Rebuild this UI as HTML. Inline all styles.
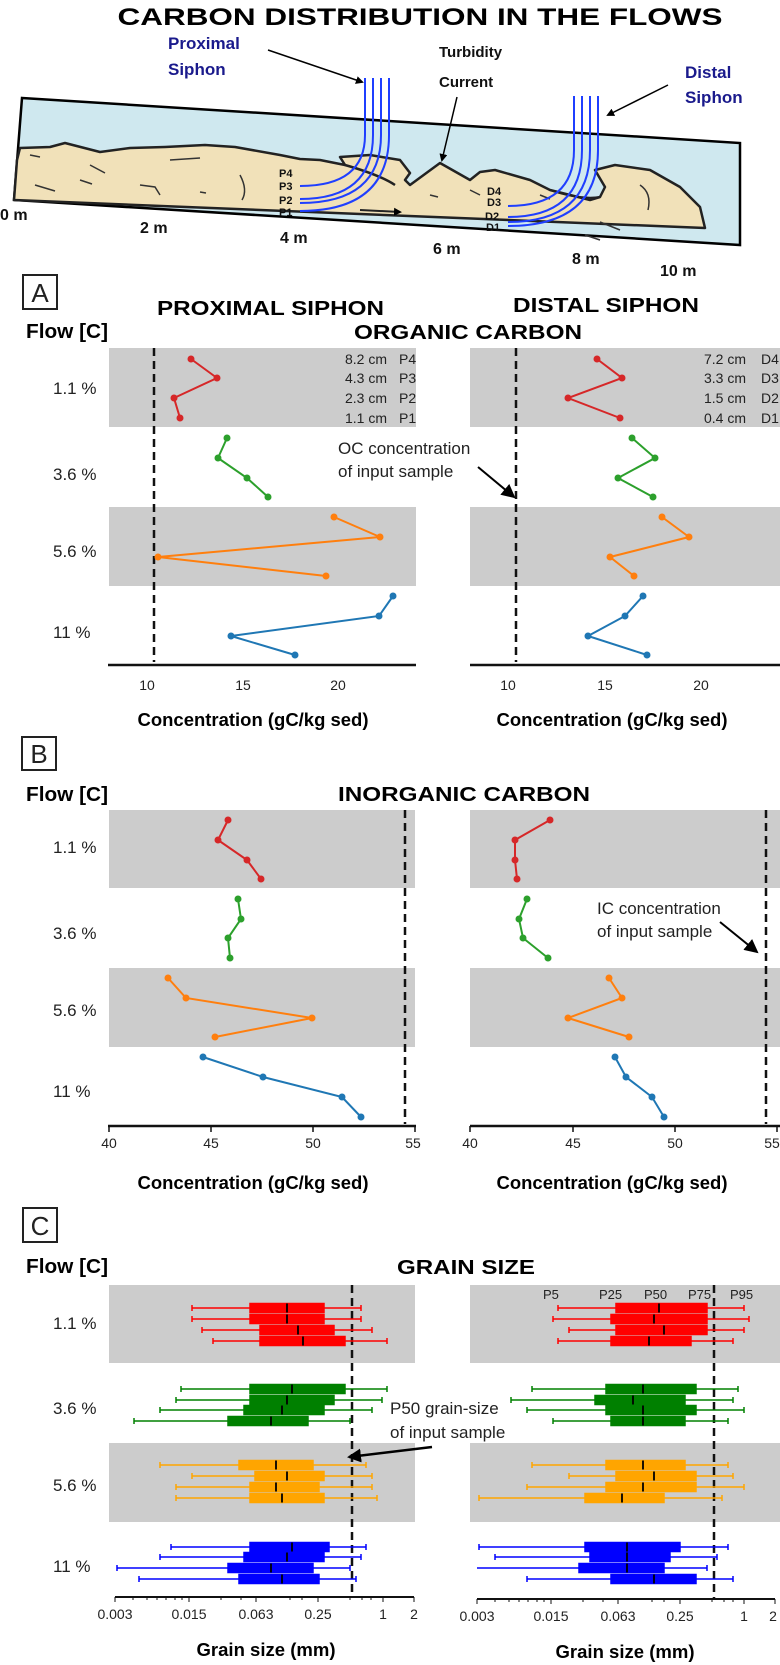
<!DOCTYPE html>
<html><head><meta charset="utf-8"><style>
html,body{margin:0;padding:0;background:#fff}
svg{display:block}
text{font-family:"Liberation Sans",sans-serif}
.t{font-weight:bold}
.row{font-size:17px;fill:#222}
.tk{font-size:14px;fill:#222}
</style></head><body>
<svg width="780" height="1665" viewBox="0 0 780 1665" xmlns="http://www.w3.org/2000/svg">
<defs><marker id="ar" markerWidth="8" markerHeight="8" refX="6" refY="4" orient="auto" markerUnits="userSpaceOnUse"><path d="M0,0 L8,4 L0,8 z" fill="#000"/></marker>
<marker id="ar2" markerWidth="14" markerHeight="14" refX="12" refY="7" orient="auto" markerUnits="userSpaceOnUse"><path d="M0,0 L14,7 L0,14 z" fill="#000"/></marker></defs>

<!-- TOP DIAGRAM -->
<text x="420" y="25" text-anchor="middle" class="t" font-size="24" textLength="605" lengthAdjust="spacingAndGlyphs">CARBON DISTRIBUTION IN THE FLOWS</text>
<polygon points="22,98 740,143 740,245 14,200" fill="#cfe8ef" stroke="#000" stroke-width="2.5"/>
<path d="M17,160 L20,148 50,147 65,143 100,152 130,148 165,147 205,145 235,147 280,155 300,159 320,160 345,165 340,157 370,155 400,160 410,173 405,180 410,185 440,163 470,180 480,172 495,170 530,180 550,190 590,200 600,197 605,187 595,170 615,165 650,170 680,187 700,207 705,228 L14,200 Z" fill="#f1e1b9" stroke="#222" stroke-width="2.5" stroke-linejoin="round"/>
<path d="M345,165 Q380,175 395,185" fill="none" stroke="#222" stroke-width="2.5"/>
<path d="M550,190 Q580,200 600,197" fill="none" stroke="#222" stroke-width="2"/>
<g stroke="#333" stroke-width="1.5" fill="none">
<path d="M30,155 l10,2"/><path d="M90,165 l15,8"/><path d="M170,160 l30,-2"/><path d="M35,185 l20,6"/><path d="M80,180 l12,4"/><path d="M140,185 l15,2 5,8"/><path d="M200,192 l6,1"/><path d="M240,175 q8,15 2,25"/><path d="M430,195 l8,2"/><path d="M470,190 l10,5"/><path d="M640,185 q12,8 8,25"/><path d="M600,222 l20,8"/><path d="M585,235 l15,5"/><path d="M540,195 l10,4"/>
</g>
<path d="M360,210 L400,212" stroke="#222" stroke-width="2" marker-end="url(#ar)"/>
<g stroke="#1f3fff" stroke-width="2" fill="none">
<path d="M365,78 V135 Q365,186 300,186"/><path d="M373,78 V135 Q373,199 300,199"/><path d="M381,78 V135 Q381,203 300,203"/><path d="M389,78 V135 Q389,211 300,211"/>
<path d="M574,96 V150 Q574,206 508,206"/><path d="M582,96 V150 Q582,217 508,217"/><path d="M590,96 V150 Q590,222 508,222"/><path d="M598,96 V150 Q598,226 508,226"/>
</g>
<g class="t" font-size="11" fill="#111">
<text x="279" y="177">P4</text><text x="279" y="190">P3</text><text x="279" y="204">P2</text><text x="279" y="216">P1</text>
<text x="487" y="195">D4</text><text x="487" y="206">D3</text><text x="485" y="220">D2</text><text x="486" y="231">D1</text>
</g>
<g class="t" font-size="17" fill="#1a1a8c">
<text x="168" y="49">Proximal</text><text x="168" y="75">Siphon</text>
<text x="685" y="78">Distal</text><text x="685" y="103">Siphon</text>
</g>
<g class="t" font-size="15" fill="#111"><text x="439" y="57">Turbidity</text><text x="439" y="87">Current</text></g>
<path d="M268,50 L362,82" stroke="#000" stroke-width="1.5" marker-end="url(#ar)"/>
<path d="M457,97 L442,160" stroke="#000" stroke-width="1.5" marker-end="url(#ar)"/>
<path d="M668,85 L608,115" stroke="#000" stroke-width="1.5" marker-end="url(#ar)"/>
<g class="t" font-size="16" fill="#111">
<text x="0" y="220">0 m</text><text x="140" y="233">2 m</text><text x="280" y="243">4 m</text><text x="433" y="254">6 m</text><text x="572" y="264">8 m</text><text x="660" y="276">10 m</text>
</g>

<!-- PANEL A -->
<rect x="23" y="275" width="34" height="34" fill="none" stroke="#222" stroke-width="2"/>
<text x="40" y="302" text-anchor="middle" font-size="26" fill="#222">A</text>
<text x="26" y="338" class="t" font-size="20" textLength="82" lengthAdjust="spacingAndGlyphs">Flow [C]</text>
<text x="157" y="315" class="t" font-size="20" textLength="227" lengthAdjust="spacingAndGlyphs">PROXIMAL SIPHON</text>
<text x="513" y="312" class="t" font-size="20" textLength="186" lengthAdjust="spacingAndGlyphs">DISTAL SIPHON</text>
<text x="354" y="339" class="t" font-size="20" textLength="228" lengthAdjust="spacingAndGlyphs">ORGANIC CARBON</text>
<rect x="109" y="348" width="307" height="79" fill="#cccccc"/><rect x="109" y="507" width="307" height="79" fill="#cccccc"/>
<rect x="470" y="348" width="310" height="79" fill="#cccccc"/><rect x="470" y="507" width="310" height="79" fill="#cccccc"/>
<g class="row"><text x="53" y="394">1.1 %</text><text x="53" y="480">3.6 %</text><text x="53" y="557">5.6 %</text><text x="53" y="638">11 %</text></g>
<g font-size="14" fill="#222">
<text x="387" y="364" text-anchor="end">8.2 cm</text><text x="399" y="364">P4</text>
<text x="387" y="383" text-anchor="end">4.3 cm</text><text x="399" y="383">P3</text>
<text x="387" y="403" text-anchor="end">2.3 cm</text><text x="399" y="403">P2</text>
<text x="387" y="423" text-anchor="end">1.1 cm</text><text x="399" y="423">P1</text>
<text x="746" y="364" text-anchor="end">7.2 cm</text><text x="761" y="364">D4</text>
<text x="746" y="383" text-anchor="end">3.3 cm</text><text x="761" y="383">D3</text>
<text x="746" y="403" text-anchor="end">1.5 cm</text><text x="761" y="403">D2</text>
<text x="746" y="423" text-anchor="end">0.4 cm</text><text x="761" y="423">D1</text>
</g>
<line x1="154" y1="348" x2="154" y2="662" stroke="#111" stroke-width="2.5" stroke-dasharray="8,5"/>
<line x1="516" y1="348" x2="516" y2="662" stroke="#111" stroke-width="2.5" stroke-dasharray="8,5"/>
<text x="338" y="454" font-size="17" fill="#222">OC concentration</text><text x="338" y="477" font-size="17" fill="#222">of input sample</text>
<path d="M478,467 L514,497" stroke="#000" stroke-width="2" marker-end="url(#ar2)"/>
<g fill="none" stroke-width="2">
<polyline stroke="#d62728" points="191,359 217,378 174,398 180,418"/>
<polyline stroke="#2ca02c" points="227,438 218,458 247,478 268,497"/>
<polyline stroke="#ff7f0e" points="334,517 380,537 158,557 326,576"/>
<polyline stroke="#1f77b4" points="393,596 379,616 231,636 295,655"/>
<polyline stroke="#d62728" points="597,359 622,378 568,398 620,418"/>
<polyline stroke="#2ca02c" points="632,438 655,458 618,478 653,497"/>
<polyline stroke="#ff7f0e" points="662,517 689,537 610,557 634,576"/>
<polyline stroke="#1f77b4" points="643,596 625,616 588,636 647,655"/>
</g>
<g>
<g fill="#d62728"><circle cx="191" cy="359" r="3.5"/><circle cx="217" cy="378" r="3.5"/><circle cx="174" cy="398" r="3.5"/><circle cx="180" cy="418" r="3.5"/><circle cx="597" cy="359" r="3.5"/><circle cx="622" cy="378" r="3.5"/><circle cx="568" cy="398" r="3.5"/><circle cx="620" cy="418" r="3.5"/></g>
<g fill="#2ca02c"><circle cx="227" cy="438" r="3.5"/><circle cx="218" cy="458" r="3.5"/><circle cx="247" cy="478" r="3.5"/><circle cx="268" cy="497" r="3.5"/><circle cx="632" cy="438" r="3.5"/><circle cx="655" cy="458" r="3.5"/><circle cx="618" cy="478" r="3.5"/><circle cx="653" cy="497" r="3.5"/></g>
<g fill="#ff7f0e"><circle cx="334" cy="517" r="3.5"/><circle cx="380" cy="537" r="3.5"/><circle cx="158" cy="557" r="3.5"/><circle cx="326" cy="576" r="3.5"/><circle cx="662" cy="517" r="3.5"/><circle cx="689" cy="537" r="3.5"/><circle cx="610" cy="557" r="3.5"/><circle cx="634" cy="576" r="3.5"/></g>
<g fill="#1f77b4"><circle cx="393" cy="596" r="3.5"/><circle cx="379" cy="616" r="3.5"/><circle cx="231" cy="636" r="3.5"/><circle cx="295" cy="655" r="3.5"/><circle cx="643" cy="596" r="3.5"/><circle cx="625" cy="616" r="3.5"/><circle cx="588" cy="636" r="3.5"/><circle cx="647" cy="655" r="3.5"/></g>
</g>
<g stroke="#111" stroke-width="2.5"><line x1="108" y1="665" x2="416" y2="665"/><line x1="470" y1="665" x2="780" y2="665"/></g>
<g class="tk" text-anchor="middle"><text x="147" y="690">10</text><text x="243" y="690">15</text><text x="338" y="690">20</text><text x="508" y="690">10</text><text x="605" y="690">15</text><text x="701" y="690">20</text></g>
<text x="253" y="726" text-anchor="middle" class="t" font-size="18" textLength="231" lengthAdjust="spacingAndGlyphs">Concentration (gC/kg sed)</text>
<text x="612" y="726" text-anchor="middle" class="t" font-size="18" textLength="231" lengthAdjust="spacingAndGlyphs">Concentration (gC/kg sed)</text>

<!-- PANEL B -->
<rect x="22" y="737" width="34" height="33" fill="none" stroke="#222" stroke-width="2"/>
<text x="39" y="763" text-anchor="middle" font-size="26" fill="#222">B</text>
<text x="26" y="801" class="t" font-size="20" textLength="82" lengthAdjust="spacingAndGlyphs">Flow [C]</text>
<text x="338" y="801" class="t" font-size="20" textLength="252" lengthAdjust="spacingAndGlyphs">INORGANIC CARBON</text>
<rect x="109" y="810" width="306" height="78" fill="#cccccc"/><rect x="109" y="968" width="306" height="79" fill="#cccccc"/>
<rect x="470" y="810" width="310" height="78" fill="#cccccc"/><rect x="470" y="968" width="310" height="79" fill="#cccccc"/>
<g class="row"><text x="53" y="853">1.1 %</text><text x="53" y="939">3.6 %</text><text x="53" y="1016">5.6 %</text><text x="53" y="1097">11 %</text></g>
<line x1="405" y1="810" x2="405" y2="1124" stroke="#111" stroke-width="2.5" stroke-dasharray="8,5"/>
<line x1="766" y1="810" x2="766" y2="1124" stroke="#111" stroke-width="2.5" stroke-dasharray="8,5"/>
<text x="597" y="914" font-size="17" fill="#222">IC concentration</text><text x="597" y="937" font-size="17" fill="#222">of input sample</text>
<path d="M720,922 L757,952" stroke="#000" stroke-width="2" marker-end="url(#ar2)"/>
<g fill="none" stroke-width="2">
<polyline stroke="#d62728" points="228,820 218,840 247,860 261,879"/>
<polyline stroke="#2ca02c" points="238,899 241,919 228,938 230,958"/>
<polyline stroke="#ff7f0e" points="168,978 186,998 312,1018 215,1037"/>
<polyline stroke="#1f77b4" points="203,1057 263,1077 342,1097 361,1117"/>
<polyline stroke="#d62728" points="550,820 515,840 515,860 517,879"/>
<polyline stroke="#2ca02c" points="527,899 519,919 523,938 548,958"/>
<polyline stroke="#ff7f0e" points="609,978 622,998 568,1018 629,1037"/>
<polyline stroke="#1f77b4" points="615,1057 626,1077 652,1097 664,1117"/>
</g>
<g fill="#d62728"><circle cx="228" cy="820" r="3.5"/><circle cx="218" cy="840" r="3.5"/><circle cx="247" cy="860" r="3.5"/><circle cx="261" cy="879" r="3.5"/><circle cx="550" cy="820" r="3.5"/><circle cx="515" cy="840" r="3.5"/><circle cx="515" cy="860" r="3.5"/><circle cx="517" cy="879" r="3.5"/></g>
<g fill="#2ca02c"><circle cx="238" cy="899" r="3.5"/><circle cx="241" cy="919" r="3.5"/><circle cx="228" cy="938" r="3.5"/><circle cx="230" cy="958" r="3.5"/><circle cx="527" cy="899" r="3.5"/><circle cx="519" cy="919" r="3.5"/><circle cx="523" cy="938" r="3.5"/><circle cx="548" cy="958" r="3.5"/></g>
<g fill="#ff7f0e"><circle cx="168" cy="978" r="3.5"/><circle cx="186" cy="998" r="3.5"/><circle cx="312" cy="1018" r="3.5"/><circle cx="215" cy="1037" r="3.5"/><circle cx="609" cy="978" r="3.5"/><circle cx="622" cy="998" r="3.5"/><circle cx="568" cy="1018" r="3.5"/><circle cx="629" cy="1037" r="3.5"/></g>
<g fill="#1f77b4"><circle cx="203" cy="1057" r="3.5"/><circle cx="263" cy="1077" r="3.5"/><circle cx="342" cy="1097" r="3.5"/><circle cx="361" cy="1117" r="3.5"/><circle cx="615" cy="1057" r="3.5"/><circle cx="626" cy="1077" r="3.5"/><circle cx="652" cy="1097" r="3.5"/><circle cx="664" cy="1117" r="3.5"/></g>
<g stroke="#111" stroke-width="2.5"><line x1="108" y1="1126" x2="416" y2="1126"/><line x1="470" y1="1126" x2="780" y2="1126"/></g>
<g stroke="#111" stroke-width="1.5"><path d="M109,1126v6M211,1126v6M313,1126v6M415,1126v6M470,1126v6M573,1126v6M675,1126v6M777,1126v6"/></g>
<g class="tk" text-anchor="middle"><text x="109" y="1148">40</text><text x="211" y="1148">45</text><text x="313" y="1148">50</text><text x="413" y="1148">55</text><text x="470" y="1148">40</text><text x="573" y="1148">45</text><text x="675" y="1148">50</text><text x="772" y="1148">55</text></g>
<text x="253" y="1189" text-anchor="middle" class="t" font-size="18" textLength="231" lengthAdjust="spacingAndGlyphs">Concentration (gC/kg sed)</text>
<text x="612" y="1189" text-anchor="middle" class="t" font-size="18" textLength="231" lengthAdjust="spacingAndGlyphs">Concentration (gC/kg sed)</text>

<!-- PANEL C -->
<rect x="23" y="1208" width="34" height="34" fill="none" stroke="#222" stroke-width="2"/>
<text x="40" y="1235" text-anchor="middle" font-size="26" fill="#222">C</text>
<text x="26" y="1273" class="t" font-size="20" textLength="82" lengthAdjust="spacingAndGlyphs">Flow [C]</text>
<text x="397" y="1274" class="t" font-size="20" textLength="138" lengthAdjust="spacingAndGlyphs">GRAIN SIZE</text>
<rect x="109" y="1285" width="306" height="78" fill="#cccccc"/><rect x="109" y="1443" width="306" height="79" fill="#cccccc"/>
<rect x="470" y="1285" width="310" height="78" fill="#cccccc"/><rect x="470" y="1443" width="310" height="79" fill="#cccccc"/>
<g class="row"><text x="53" y="1329">1.1 %</text><text x="53" y="1414">3.6 %</text><text x="53" y="1491">5.6 %</text><text x="53" y="1572">11 %</text></g>
<g font-size="13" fill="#222"><text x="543" y="1299">P5</text><text x="599" y="1299">P25</text><text x="644" y="1299">P50</text><text x="688" y="1299">P75</text><text x="730" y="1299">P95</text></g>
<line x1="352" y1="1285" x2="352" y2="1597" stroke="#111" stroke-width="2.5" stroke-dasharray="8,5"/>
<line x1="714" y1="1285" x2="714" y2="1600" stroke="#111" stroke-width="2.5" stroke-dasharray="8,5"/>
<text x="390" y="1414" font-size="17" fill="#222">P50 grain-size</text><text x="390" y="1438" font-size="17" fill="#222">of input sample</text>
<path d="M432,1447 L349,1457" stroke="#000" stroke-width="2.5" marker-end="url(#ar2)"/>

<g stroke-width="1.5">
<!-- left red -->
<g stroke="#ff0000" fill="#ff0000">
<path d="M192,1308H361M192,1305v6M361,1305v6"/><rect x="250" y="1303.5" width="74" height="9"/>
<path d="M192,1319H361M192,1316v6M361,1316v6"/><rect x="250" y="1314.5" width="74" height="9"/>
<path d="M202,1330H372M202,1327v6M372,1327v6"/><rect x="260" y="1325.5" width="74" height="9"/>
<path d="M213,1341H387M213,1338v6M387,1338v6"/><rect x="260" y="1336.5" width="85" height="9"/>
</g>
<g stroke="#008000" fill="#008000">
<path d="M181,1389H387M181,1386v6M387,1386v6"/><rect x="250" y="1384.5" width="95" height="9"/>
<path d="M176,1400H382M176,1397v6M382,1397v6"/><rect x="250" y="1395.5" width="84" height="9"/>
<path d="M160,1410H372M160,1407v6M372,1407v6"/><rect x="244" y="1405.5" width="80" height="9"/>
<path d="M134,1421H350M134,1418v6M350,1418v6"/><rect x="228" y="1416.5" width="80" height="9"/>
</g>
<g stroke="#ffa500" fill="#ffa500">
<path d="M160,1465H366M160,1462v6M366,1462v6"/><rect x="239" y="1460.5" width="74" height="9"/>
<path d="M192,1476H372M192,1473v6M372,1473v6"/><rect x="255" y="1471.5" width="69" height="9"/>
<path d="M176,1487H372M176,1484v6M372,1484v6"/><rect x="250" y="1482.5" width="69" height="9"/>
<path d="M176,1498H377M176,1495v6M377,1495v6"/><rect x="250" y="1493.5" width="74" height="9"/>
</g>
<g stroke="#0000ff" fill="#0000ff">
<path d="M171,1547H366M171,1544v6M366,1544v6"/><rect x="250" y="1542.5" width="79" height="9"/>
<path d="M160,1557H361M160,1554v6M361,1554v6"/><rect x="244" y="1552.5" width="80" height="9"/>
<path d="M117,1568H350M117,1565v6M350,1565v6"/><rect x="228" y="1563.5" width="85" height="9"/>
<path d="M139,1579H356M139,1576v6M356,1576v6"/><rect x="239" y="1574.5" width="80" height="9"/>
</g>
<!-- right -->
<g stroke="#ff0000" fill="#ff0000">
<path d="M558,1308H744M558,1305v6M744,1305v6"/><rect x="616" y="1303.5" width="91" height="9"/>
<path d="M553,1319H749M553,1316v6M749,1316v6"/><rect x="611" y="1314.5" width="96" height="9"/>
<path d="M569,1330H744M569,1327v6M744,1327v6"/><rect x="616" y="1325.5" width="91" height="9"/>
<path d="M558,1341H733M558,1338v6M733,1338v6"/><rect x="611" y="1336.5" width="80" height="9"/>
</g>
<g stroke="#008000" fill="#008000">
<path d="M532,1389H738M532,1386v6M738,1386v6"/><rect x="606" y="1384.5" width="90" height="9"/>
<path d="M511,1400H733M511,1397v6M733,1397v6"/><rect x="595" y="1395.5" width="90" height="9"/>
<path d="M527,1410H744M527,1407v6M744,1407v6"/><rect x="606" y="1405.5" width="90" height="9"/>
<path d="M553,1421H728M553,1418v6M728,1418v6"/><rect x="611" y="1416.5" width="74" height="9"/>
</g>
<g stroke="#ffa500" fill="#ffa500">
<path d="M532,1465H728M532,1462v6M728,1462v6"/><rect x="606" y="1460.5" width="79" height="9"/>
<path d="M569,1476H733M569,1473v6M733,1473v6"/><rect x="616" y="1471.5" width="80" height="9"/>
<path d="M527,1487H744M527,1484v6M744,1484v6"/><rect x="606" y="1482.5" width="90" height="9"/>
<path d="M479,1498H722M479,1495v6M722,1495v6"/><rect x="585" y="1493.5" width="79" height="9"/>
</g>
<g stroke="#0000ff" fill="#0000ff">
<path d="M479,1547H728M479,1544v6M728,1544v6"/><rect x="585" y="1542.5" width="95" height="9"/>
<path d="M495,1557H717M495,1554v6M717,1554v6"/><rect x="590" y="1552.5" width="80" height="9"/>
<path d="M477,1568H707M707,1565v6"/><rect x="579" y="1563.5" width="85" height="9"/>
<path d="M527,1579H733M527,1576v6M733,1576v6"/><rect x="611" y="1574.5" width="85" height="9"/>
</g>
</g>
<g stroke="#000" stroke-width="1.8">
<path d="M287,1303.5v9M287,1314.5v9M298,1325.5v9M303,1336.5v9M292,1384.5v9M287,1395.5v9M282,1405.5v9M271,1416.5v9M276,1460.5v9M287,1471.5v9M276,1482.5v9M282,1493.5v9M292,1542.5v9M287,1552.5v9M271,1563.5v9M282,1574.5v9"/>
<path d="M659,1303.5v9M654,1314.5v9M664,1325.5v9M649,1336.5v9M643,1384.5v9M633,1395.5v9M643,1405.5v9M643,1416.5v9M643,1460.5v9M654,1471.5v9M643,1482.5v9M622,1493.5v9M627,1542.5v9M627,1552.5v9M627,1563.5v9M654,1574.5v9"/>
</g>
<g stroke="#111" stroke-width="2"><line x1="115" y1="1597" x2="414" y2="1597"/><line x1="477" y1="1599" x2="775" y2="1599"/></g>
<g stroke="#111" stroke-width="1">
<path d="M115,1597v5M189,1597v5M256,1597v5M318,1597v5M383,1597v5M414,1597v5M477,1599v5M551,1599v5M618,1599v5M680,1599v5M744,1599v5M775,1599v5"/>
<path d="M133,1597v3M147,1597v3M157,1597v3M166,1597v3M175,1597v3M182,1597v3M221,1597v3M241,1597v3M290,1597v3M302,1597v3M350,1597v3M362,1597v3M371,1597v3M495,1599v3M509,1599v3M519,1599v3M528,1599v3M537,1599v3M544,1599v3M583,1599v3M603,1599v3M652,1599v3M664,1599v3M712,1599v3M724,1599v3M733,1599v3"/>
</g>
<g class="tk" text-anchor="middle"><text x="115" y="1619">0.003</text><text x="189" y="1619">0.015</text><text x="256" y="1619">0.063</text><text x="318" y="1619">0.25</text><text x="383" y="1619">1</text><text x="414" y="1619">2</text>
<text x="477" y="1621">0.003</text><text x="551" y="1621">0.015</text><text x="618" y="1621">0.063</text><text x="680" y="1621">0.25</text><text x="744" y="1621">1</text><text x="773" y="1621">2</text></g>
<text x="266" y="1656" text-anchor="middle" class="t" font-size="18" textLength="139" lengthAdjust="spacingAndGlyphs">Grain size (mm)</text>
<text x="625" y="1658" text-anchor="middle" class="t" font-size="18" textLength="139" lengthAdjust="spacingAndGlyphs">Grain size (mm)</text>
</svg>
</body></html>
